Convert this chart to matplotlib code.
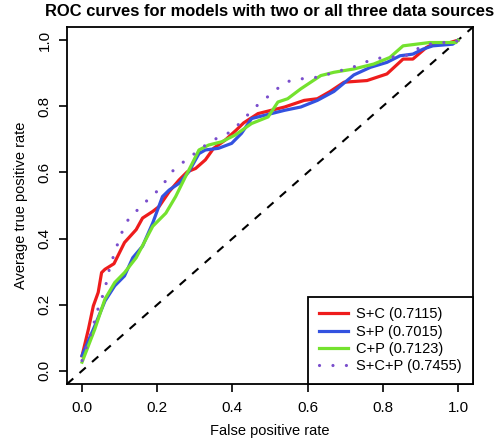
import matplotlib
matplotlib.use("Agg")
import matplotlib.pyplot as plt

plt.rcParams['font.family'] = ['Liberation Sans', 'DejaVu Sans']

# ROC curves (false positive rate, average true positive rate)
sc_fpr = [0, 0.017, 0.03, 0.043, 0.052, 0.061, 0.085, 0.113, 0.144, 0.161,
          0.188, 0.205, 0.232, 0.258, 0.28, 0.302, 0.328, 0.35, 0.381, 0.41,
          0.43, 0.468, 0.539, 0.591, 0.626, 0.66, 0.697, 0.758, 0.811, 0.854,
          0.88, 0.916, 0.933, 0.97, 1.0]
sc_tpr = [0.045, 0.126, 0.196, 0.237, 0.297, 0.307, 0.324, 0.388, 0.427, 0.462,
          0.482, 0.497, 0.542, 0.577, 0.602, 0.612, 0.638, 0.673, 0.698, 0.728,
          0.75, 0.778, 0.798, 0.818, 0.823, 0.845, 0.873, 0.878, 0.898, 0.943,
          0.943, 0.978, 0.988, 0.99, 1.0]

sp_fpr = [0, 0.034, 0.061, 0.087, 0.113, 0.135, 0.161, 0.188, 0.214, 0.232,
          0.258, 0.284, 0.311, 0.328, 0.363, 0.398, 0.424, 0.451, 0.486, 0.539,
          0.582, 0.626, 0.67, 0.723, 0.767, 0.811, 0.846, 0.88, 0.907, 0.933,
          0.986, 1.0]
sp_tpr = [0.046, 0.136, 0.211, 0.257, 0.287, 0.342, 0.377, 0.447, 0.527, 0.547,
          0.567, 0.602, 0.657, 0.668, 0.673, 0.688, 0.718, 0.763, 0.773, 0.788,
          0.798, 0.818, 0.845, 0.895, 0.918, 0.933, 0.953, 0.958, 0.973, 0.983,
          0.988, 1.0]

cp_fpr = [0, 0.034, 0.061, 0.087, 0.113, 0.144, 0.188, 0.223, 0.249, 0.275,
          0.293, 0.311, 0.337, 0.372, 0.407, 0.451, 0.495, 0.521, 0.547, 0.582,
          0.635, 0.67, 0.723, 0.776, 0.819, 0.854, 0.889, 0.924, 0.995, 1.0]
cp_tpr = [0.026, 0.126, 0.217, 0.267, 0.297, 0.342, 0.437, 0.477, 0.527, 0.587,
          0.627, 0.668, 0.683, 0.693, 0.713, 0.748, 0.768, 0.813, 0.823, 0.853,
          0.893, 0.903, 0.913, 0.928, 0.948, 0.983, 0.988, 0.993, 0.993, 1.0]

scp_fpr = [0, 0.03, 0.039, 0.05, 0.061, 0.068, 0.076, 0.087, 0.097, 0.109,
           0.125, 0.148, 0.172, 0.196, 0.218, 0.236, 0.26, 0.286, 0.312, 0.339,
           0.368, 0.398, 0.42, 0.444, 0.468, 0.495, 0.519, 0.547, 0.578, 0.611,
           0.644, 0.675, 0.707, 0.739, 0.769, 0.802, 0.835, 0.868, 0.898, 0.924,
           0.958, 0.992, 1.0]
scp_tpr = [0.031, 0.136, 0.176, 0.211, 0.247, 0.285, 0.322, 0.357, 0.392, 0.427,
           0.462, 0.487, 0.514, 0.539, 0.567, 0.599, 0.624, 0.644, 0.67, 0.69,
           0.71, 0.723, 0.75, 0.778, 0.805, 0.83, 0.853, 0.875, 0.883, 0.885,
           0.893, 0.905, 0.913, 0.926, 0.941, 0.948, 0.95, 0.955, 0.978, 0.988,
           0.993, 0.993, 1.0]

labels = ["S+C (0.7115)", "S+P (0.7015)", "C+P (0.7123)", "S+C+P (0.7455)"]
ticks = [0.0, 0.2, 0.4, 0.6, 0.8, 1.0]
tick_labels = ["0.0", "0.2", "0.4", "0.6", "0.8", "1.0"]

fig = plt.figure(figsize=(5, 4.44), dpi=100)
ax = fig.add_axes([67 / 500, 1 - 384 / 444, 406 / 500, 357 / 444])

ax.axline((0, 0), (1, 1), color="black", lw=1.5, linestyle=(0, (4, 4)))
ax.plot(sc_fpr, sc_tpr, color="#EE1C1C", lw=2.3, label=labels[0])
ax.plot(sp_fpr, sp_tpr, color="#3352E0", lw=2.3, label=labels[1])
ax.plot(cp_fpr, cp_tpr, color="#74E22E", lw=2.3, label=labels[2])
ax.plot(scp_fpr, scp_tpr, color="#7A4ECC", lw=2.3, linestyle=(0, (0.01, 4.2)),
        dash_capstyle="round", label=labels[3])

ax.set_xlim(-0.04, 1.04)
ax.set_ylim(-0.04, 1.04)
ax.set_xticks(ticks, tick_labels)
ax.set_yticks(ticks, tick_labels)
ax.tick_params(direction="out", length=6, width=1.2, labelsize=11, colors="black")
for lab in ax.get_yticklabels():
    lab.set_rotation(90)
    lab.set_va("center")
ax.tick_params(axis="x", pad=6)
ax.tick_params(axis="y", pad=5)
for s in ax.spines.values():
    s.set_linewidth(1.3)

ax.set_xlabel("False positive rate", fontsize=10.5, labelpad=7)
ax.set_ylabel("Average true positive rate", fontsize=10.5, labelpad=7)
ax.set_title("ROC curves for models with two or all three data sources",
             fontsize=11.9, fontweight="bold", pad=8)

leg = ax.legend(loc="lower right", borderaxespad=0, fancybox=False,
                edgecolor="black", framealpha=1, fontsize=10.5,
                handlelength=2.0, handletextpad=0.6, labelspacing=0.22,
                borderpad=0.75)
leg.get_frame().set_linewidth(1.3)

fig.savefig("out.png", dpi=100)
